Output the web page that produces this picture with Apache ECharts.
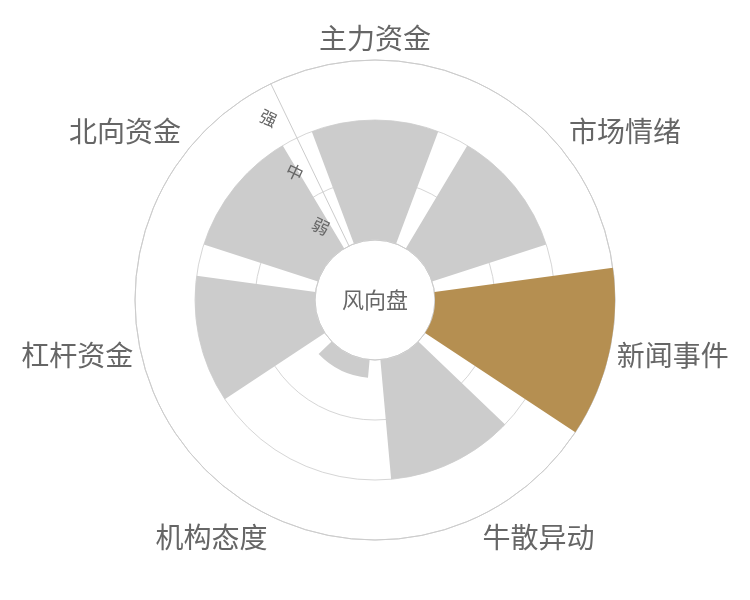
<!DOCTYPE html>
<html>
<head>
<meta charset="utf-8">
<script src="https://cdn.jsdelivr.net/npm/echarts@6/dist/echarts.min.js"></script>
<style>
html,body{margin:0;padding:0;background:#fff;}
#chart{width:750px;height:600px;}
</style>
</head>
<body>
<div id="chart"></div>
<script>
const categories = ['主力资金', '市场情绪', '新闻事件', '牛散异动', '机构态度', '杠杆资金', '北向资金'];
const values = [2, 2, 3, 2, 0.3, 2, 2];
const levels = ['弱', '中', '强'];
const highlight = '新闻事件';
const centerText = '风向盘';

const GOLD = '#b58f51';
const GREY = '#cccccc';
const FONT = '"Noto Sans CJK SC", "Noto Sans", sans-serif';
const startAngle = 90 + 180 / categories.length;

const chart = echarts.init(document.getElementById('chart'));
chart.setOption({
  backgroundColor: '#fff',
  textStyle: { fontFamily: FONT },
  animation: false,
  polar: [
    { center: ['50%', '50%'], radius: [60, 240] },
    { center: ['50%', '50%'], radius: [60, 240] }
  ],
  angleAxis: [
    {
      polarIndex: 0,
      type: 'category',
      data: categories,
      startAngle: startAngle,
      clockwise: true,
      axisLine: { show: true, lineStyle: { color: '#cccccc', width: 1 } },
      axisTick: { show: false },
      splitLine: { show: false },
      axisLabel: {
        fontSize: 28,
        margin: 8,
        fontFamily: FONT,
        color: function (v) { return v === highlight ? GOLD : '#333333'; }
      }
    },
    {
      polarIndex: 1,
      type: 'value',
      startAngle: startAngle,
      show: false
    }
  ],
  radiusAxis: [
    {
      polarIndex: 0,
      type: 'value',
      min: 0,
      max: 3,
      interval: 1,
      axisLine: { show: false },
      axisTick: { show: false },
      axisLabel: { show: false },
      splitLine: { show: true, lineStyle: { color: '#d6d6d6', width: 1 } }
    },
    {
      polarIndex: 1,
      type: 'category',
      data: levels,
      z: 10,
      axisLine: { show: true, lineStyle: { color: '#cccccc', width: 1 } },
      axisTick: { show: false },
      splitLine: { show: false },
      axisLabel: {
        color: '#666666', fontSize: 17, fontFamily: FONT,
        rotate: 90 - startAngle, margin: 17,
        align: 'center', verticalAlign: 'middle'
      }
    }
  ],
  series: [
    {
      type: 'bar',
      coordinateSystem: 'polar',
      polarIndex: 0,
      barCategoryGap: '20%',
      silent: true,
      data: values.map(function (v, i) {
        return { value: v, itemStyle: { color: categories[i] === highlight ? GOLD : GREY } };
      })
    }
  ],
  graphic: [
    {
      type: 'text',
      left: 'center',
      top: 'middle',
      style: { text: centerText, fontSize: 22, fill: '#666666', fontFamily: FONT }
    }
  ]
});
</script>
</body>
</html>
